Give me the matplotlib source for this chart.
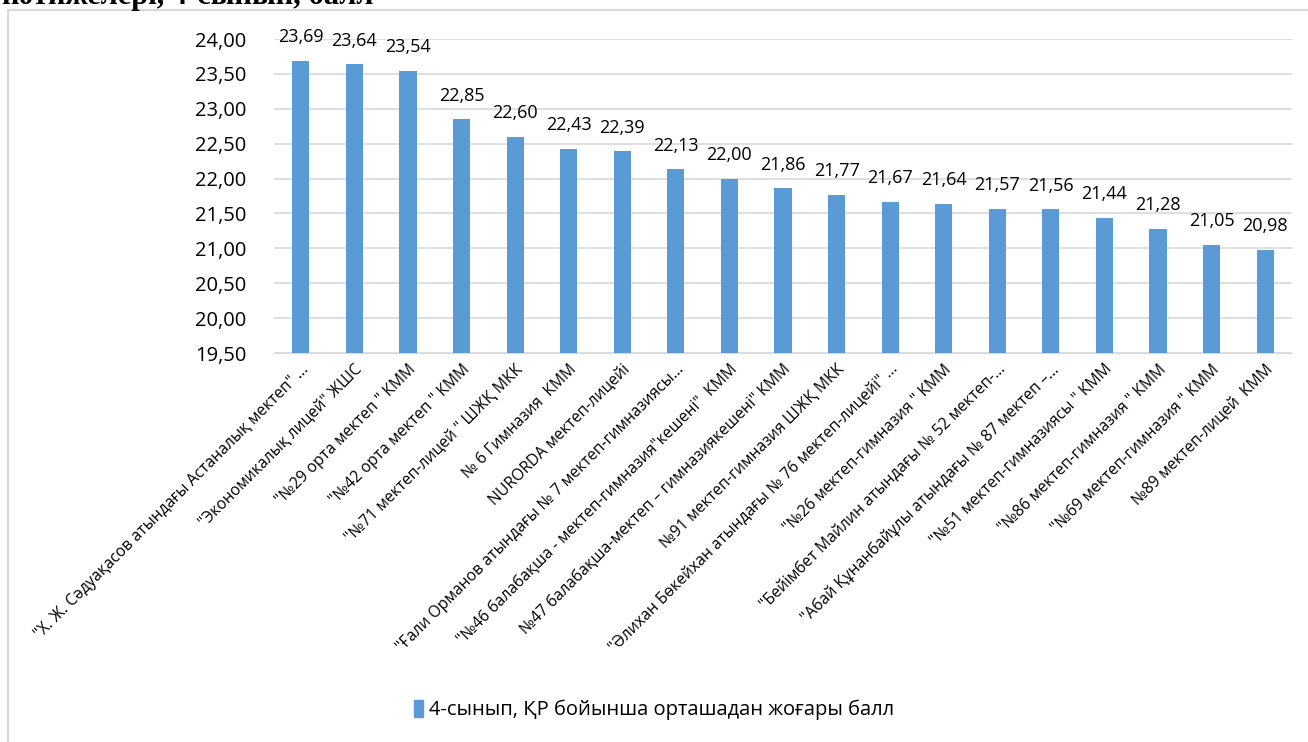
import matplotlib
matplotlib.use("Agg")
from matplotlib import pyplot as plt
from matplotlib.patches import Rectangle
from matplotlib.ticker import FuncFormatter, MultipleLocator

plt.rcParams['font.family'] = ['Open Sans', 'DejaVu Sans']

# Мектептер атауы
schools = [
    '"Х. Ж. Сәдуақасов атындағы Астаналық мектеп" ...',
    '"Экономикалық лицей" ЖШС',
    '"№29 орта мектеп " КММ',
    '"№42 орта мектеп " КММ',
    '"№71 мектеп-лицей " ШЖҚ МКК',
    '№ 6 Гимназия  КММ',
    'NURORDA мектеп-лицейі',
    '"Ғали Орманов атындағы № 7 мектеп-гимназиясы...',
    '"№46 балабақша - мектеп-гимназия"кешені"  КММ',
    '№47 балабақша-мектеп – гимназиякешені" КММ',
    '№91 мектеп-гимназия ШЖҚ МКК',
    '"Әлихан Бөкейхан атындағы № 76 мектеп-лицейі" ...',
    '"№26 мектеп-гимназия " КММ',
    '"Бейімбет Майлин атындағы № 52 мектеп-...',
    '"Абай Құнанбайұлы атындағы № 87 мектеп –...',
    '"№51 мектеп-гимназиясы " КММ',
    '"№86 мектеп-гимназия " КММ',
    '"№69 мектеп-гимназия " КММ',
    '№89 мектеп-лицей  КММ',
]
# Орташа балл
scores = [23.69, 23.64, 23.54, 22.85, 22.60, 22.43, 22.39, 22.13, 22.00, 21.86,
          21.77, 21.67, 21.64, 21.57, 21.56, 21.44, 21.28, 21.05, 20.98]
series_name = '4-сынып, ҚР бойынша орташадан жоғары балл'
title_tail = 'нәтижелері, 4-сынып, балл'

W, H = 1308, 742
fig = plt.figure(figsize=(W / 100, H / 100), dpi=100)

# рамка диаграммы
fig.patches.append(Rectangle((8 / W, -0.01), 1.02, 1 - 10 / H + 0.01, transform=fig.transFigure,
                             facecolor='none', edgecolor='#d9d9d9', linewidth=1.5))
# обрезанный заголовок сверху
fig.text(2 / W, 1 - 4 / H, title_tail, family='Liberation Serif', weight='bold',
         fontsize=22, ha='left', va='baseline')

ax = fig.add_axes([274 / W, 1 - 353 / H, (1292 - 274) / W, (353 - 39) / H])
x = list(range(len(scores)))
ax.bar(x, scores, width=0.32, color='#5b9bd5', zorder=3)

for xi, v in zip(x, scores):
    ax.annotate(f'{v:.2f}'.replace('.', ','), (xi, v), xytext=(0, 17), textcoords='offset points',
                ha='center', va='center', fontsize=13, color='#000000')

ax.set_ylim(19.5, 24.0)
ax.set_xlim(-0.5, len(scores) - 0.5)
ax.yaxis.set_major_locator(MultipleLocator(0.5))
ax.yaxis.set_major_formatter(FuncFormatter(lambda v, p: f'{v:.2f}'.replace('.', ',')))
ax.grid(axis='y', color='#d9d9d9', linewidth=1.2, zorder=0)
for s in ['left', 'right', 'top']:
    ax.spines[s].set_visible(False)
ax.spines['bottom'].set_color('#d9d9d9')
ax.tick_params(axis='y', length=0, labelsize=14.5, pad=20)
ax.tick_params(axis='x', length=0, pad=6)
ax.set_xticks(x)
ax.set_xticklabels(schools, rotation=45, ha='right', va='top', rotation_mode='anchor', fontsize=11.3)

fig.legend([Rectangle((0, 0), 1, 1, color='#5b9bd5')], [series_name], loc='center',
           bbox_to_anchor=(0.5, 1 - 710 / H), frameon=False, fontsize=14.5,
           handlelength=0.45, handleheight=0.9, handletextpad=0.3)

fig.savefig('out.png', dpi=100)
